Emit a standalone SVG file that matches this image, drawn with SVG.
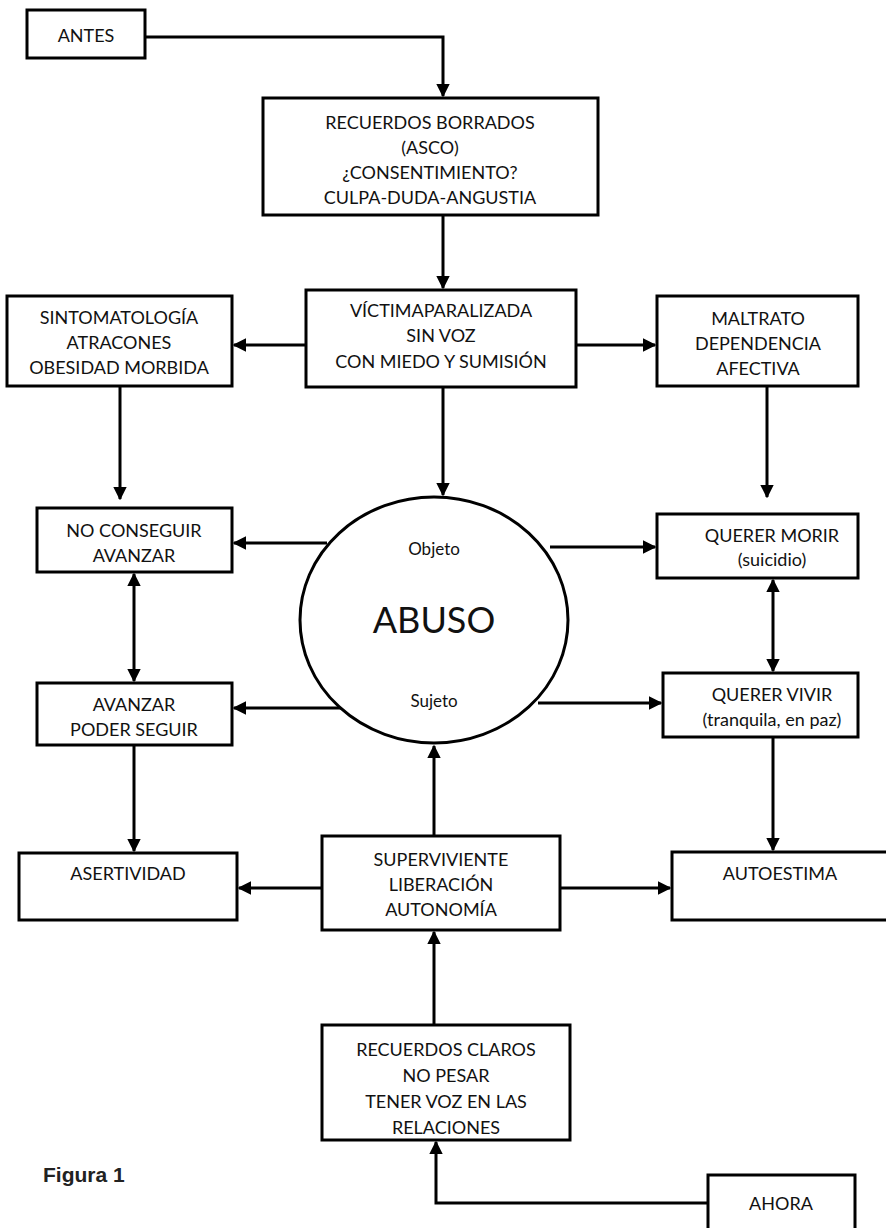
<svg xmlns="http://www.w3.org/2000/svg" width="886" height="1228" viewBox="0 0 886 1228">
<style>
.box{fill:#fff;stroke:#000;stroke-width:3}
.t{font-family:Lato,"Liberation Sans",sans-serif;font-size:18px;fill:#111;text-anchor:middle}
.c{fill:none;stroke:#000;stroke-width:3}
</style>
<defs>
<marker id="ah" viewBox="0 0 10 10" refX="9" refY="5" markerWidth="4.5" markerHeight="4.5" orient="auto-start-reverse" markerUnits="strokeWidth">
<path d="M0,0 L10,5 L0,10 z" fill="#000"/>
</marker>
</defs>
<rect width="886" height="1228" fill="#fff"/>
<g id="connectors">
<path class="c" d="M145,37 H443 V96" marker-end="url(#ah)"/>
<path class="c" d="M443,215 V288" marker-end="url(#ah)"/>
<path class="c" d="M306,345 H234" marker-end="url(#ah)"/>
<path class="c" d="M576,345 H655" marker-end="url(#ah)"/>
<path class="c" d="M120,386 V499" marker-end="url(#ah)"/>
<path class="c" d="M443,387 V495" marker-end="url(#ah)"/>
<path class="c" d="M767,386 V497" marker-end="url(#ah)"/>
<path class="c" d="M327,543 H234" marker-end="url(#ah)"/>
<path class="c" d="M550,547 H655" marker-end="url(#ah)"/>
<path class="c" d="M343,708 H234" marker-end="url(#ah)"/>
<path class="c" d="M538,703 H661" marker-end="url(#ah)"/>
<path class="c" d="M134,574 V681" marker-start="url(#ah)" marker-end="url(#ah)"/>
<path class="c" d="M773,580 V671" marker-start="url(#ah)" marker-end="url(#ah)"/>
<path class="c" d="M134,745 V851" marker-end="url(#ah)"/>
<path class="c" d="M773,737 V850" marker-end="url(#ah)"/>
<path class="c" d="M322,888 H239" marker-end="url(#ah)"/>
<path class="c" d="M560,888 H670" marker-end="url(#ah)"/>
<path class="c" d="M434,836 V746" marker-end="url(#ah)"/>
<path class="c" d="M434,1025 V932" marker-end="url(#ah)"/>
<path class="c" d="M708,1203 H436 V1142" marker-end="url(#ah)"/>
</g>
<g id="antes"><rect class="box" x="27" y="10" width="118" height="48"/><text class="t" x="86" y="42">ANTES</text></g>
<g id="recuerdos-borrados"><rect class="box" x="263" y="98" width="335" height="117"/>
<text class="t" x="430" y="129">RECUERDOS BORRADOS</text>
<text class="t" x="430" y="154">(ASCO)</text>
<text class="t" x="430" y="179">¿CONSENTIMIENTO?</text>
<text class="t" x="430" y="204">CULPA-DUDA-ANGUSTIA</text></g>
<g id="victima"><rect class="box" x="306" y="290" width="270" height="97"/>
<text class="t" x="441" y="317">VÍCTIMAPARALIZADA</text>
<text class="t" x="441" y="342">SIN VOZ</text>
<text class="t" x="441" y="368">CON MIEDO Y SUMISIÓN</text></g>
<g id="sintomatologia"><rect class="box" x="7" y="296" width="225" height="90"/>
<text class="t" x="119" y="324">SINTOMATOLOGÍA</text>
<text class="t" x="119" y="349">ATRACONES</text>
<text class="t" x="119" y="374">OBESIDAD MORBIDA</text></g>
<g id="maltrato"><rect class="box" x="657" y="296" width="201" height="90"/>
<text class="t" x="758" y="325">MALTRATO</text>
<text class="t" x="758" y="350">DEPENDENCIA</text>
<text class="t" x="758" y="375">AFECTIVA</text></g>
<g id="abuso"><ellipse cx="434" cy="620" rx="134" ry="123" fill="#fff" stroke="#000" stroke-width="3"/>
<text class="t" x="434" y="555" style="font-size:17px">Objeto</text>
<text class="t" x="434" y="633" style="font-size:36px">ABUSO</text>
<text class="t" x="434" y="707" style="font-size:17px">Sujeto</text></g>
<g id="no-conseguir"><rect class="box" x="37" y="508" width="195" height="64"/>
<text class="t" x="134" y="537">NO CONSEGUIR</text>
<text class="t" x="134" y="562">AVANZAR</text></g>
<g id="querer-morir"><rect class="box" x="657" y="514" width="201" height="64"/>
<text class="t" x="772" y="542">QUERER MORIR</text>
<text class="t" x="772" y="566">(suicidio)</text></g>
<g id="avanzar"><rect class="box" x="37" y="683" width="195" height="62"/>
<text class="t" x="134" y="711">AVANZAR</text>
<text class="t" x="134" y="736">PODER SEGUIR</text></g>
<g id="querer-vivir"><rect class="box" x="663" y="673" width="195" height="64"/>
<text class="t" x="772" y="701">QUERER VIVIR</text>
<text class="t" x="772" y="726">(tranquila, en paz)</text></g>
<g id="asertividad"><rect class="box" x="19" y="853" width="218" height="67"/>
<text class="t" x="128" y="880">ASERTIVIDAD</text></g>
<g id="superviviente"><rect class="box" x="322" y="836" width="238" height="94"/>
<text class="t" x="441" y="866">SUPERVIVIENTE</text>
<text class="t" x="441" y="891">LIBERACIÓN</text>
<text class="t" x="441" y="916">AUTONOMÍA</text></g>
<g id="autoestima"><rect class="box" x="672" y="852" width="216" height="68"/>
<text class="t" x="780" y="880">AUTOESTIMA</text></g>
<g id="recuerdos-claros"><rect class="box" x="322" y="1025" width="248" height="115"/>
<text class="t" x="446" y="1056">RECUERDOS CLAROS</text>
<text class="t" x="446" y="1082">NO PESAR</text>
<text class="t" x="446" y="1108">TENER VOZ EN LAS</text>
<text class="t" x="446" y="1134">RELACIONES</text></g>
<g id="ahora"><rect class="box" x="708" y="1175" width="147" height="60"/>
<text class="t" x="781" y="1210">AHORA</text></g>
<text x="43" y="1182" style="font-family:'Liberation Sans',Arial,sans-serif;font-size:21px;font-weight:bold;fill:#222">Figura 1</text>
</svg>
